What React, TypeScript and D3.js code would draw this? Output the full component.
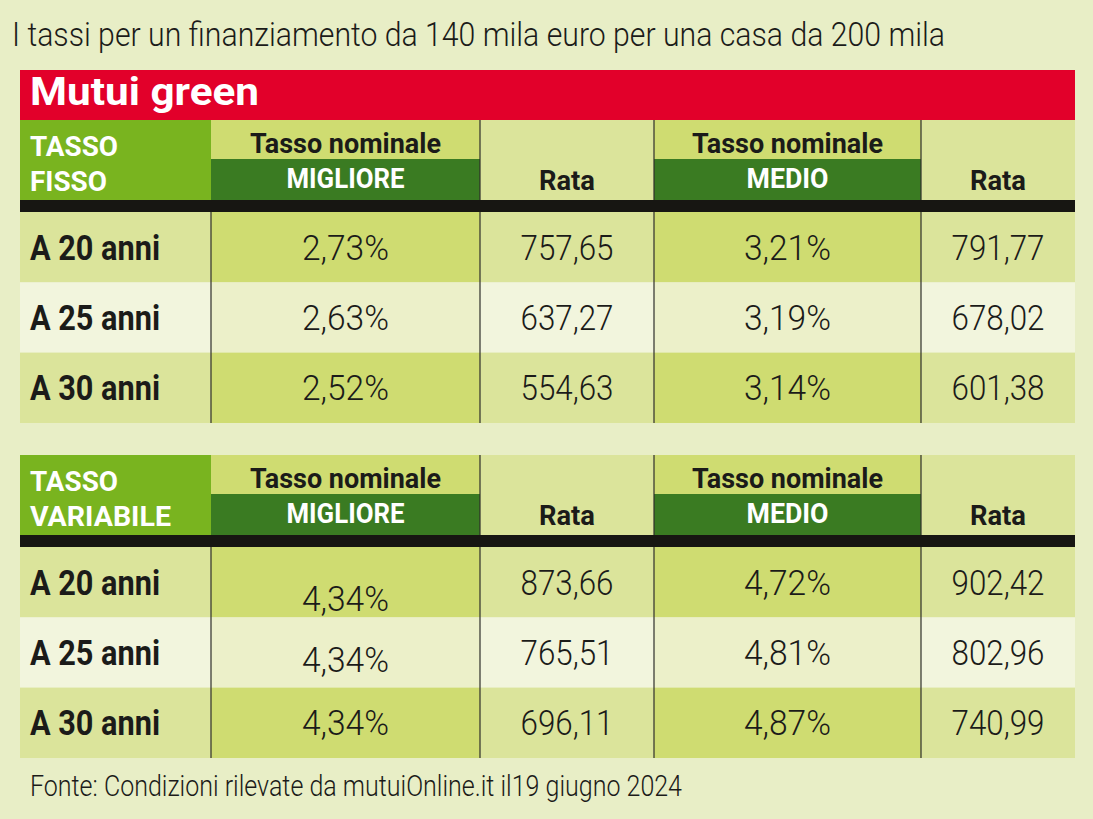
import React from "react";
import * as d3 from "d3";

const title = "I tassi per un finanziamento da 140 mila euro per una casa da 200 mila";
const banner = "Mutui green";
const footer = "Fonte: Condizioni rilevate da mutuiOnline.it il19 giugno 2024";
const rowLabels = ["A 20 anni", "A 25 anni", "A 30 anni"];
const tableNames = [["TASSO", "FISSO"], ["TASSO", "VARIABILE"]];
const headTop = "Tasso nominale";
const headSubs = ["MIGLIORE", "MEDIO"];
const rataLabel = "Rata";

const fissoMigliore = ["2,73%", "2,63%", "2,52%"];
const fissoRataMigliore = ["757,65", "637,27", "554,63"];
const fissoMedio = ["3,21%", "3,19%", "3,14%"];
const fissoRataMedio = ["791,77", "678,02", "601,38"];

const variabileMigliore = ["4,34%", "4,34%", "4,34%"];
const variabileRataMigliore = ["873,66", "765,51", "696,11"];
const variabileMedio = ["4,72%", "4,81%", "4,87%"];
const variabileRataMedio = ["902,42", "802,96", "740,99"];

const W = 1093, H = 819;
const colEdges = [20, 211, 480, 654, 921, 1075];
const C = {
  bg: "#e8eec6", red: "#e2002a", green: "#79b41f", dark: "#3a7b22",
  light: "#cfdc71", rataHead: "#dbe49b",
  oddA: "#dbe49b", oddB: "#cfdc71", evenA: "#f2f5dd", evenB: "#ecf0c9",
  black: "#171612", line: "#2e2e2a", text: "#1b1b19",
};
const F = "Roboto, 'Open Sans', sans-serif";

function Table({ top, names, cols, offsets }: { top: number; names: string[]; cols: string[][]; offsets: number[][] }) {
  const headH = 80;
  const blackH = 12;
  const bodyTop = top + headH + blackH;
  const y = d3.scaleBand<string>().domain(rowLabels).range([bodyTop, bodyTop + 211]);
  const cx = (i: number) => (colEdges[i] + colEdges[i + 1]) / 2;
  const cw = (i: number) => colEdges[i + 1] - colEdges[i];
  const splitY = top + 39;
  return (
    <g>
      <rect x={colEdges[0]} y={top} width={cw(0)} height={headH} fill={C.green} />
      {[1, 3].map((i) => (
        <g key={i}>
          <rect x={colEdges[i]} y={top} width={cw(i)} height={headH} fill={C.light} />
          <rect x={colEdges[i]} y={splitY} width={cw(i)} height={top + headH - splitY} fill={C.dark} />
          <text x={cx(i)} y={top + 33} textAnchor="middle" fontFamily={F} fontWeight={700} fontSize={27}
            textLength={191} lengthAdjust="spacingAndGlyphs" fill={C.text}>{headTop}</text>
          <text x={cx(i)} y={top + 68} textAnchor="middle" fontFamily={F} fontWeight={700} fontSize={27}
            textLength={i === 1 ? 118 : 82} lengthAdjust="spacingAndGlyphs" fill="#fff">{headSubs[(i - 1) / 2]}</text>
        </g>
      ))}
      {[2, 4].map((i) => (
        <g key={i}>
          <rect x={colEdges[i]} y={top} width={cw(i)} height={headH} fill={C.rataHead} />
          <text x={cx(i)} y={top + 70} textAnchor="middle" fontFamily={F} fontWeight={700} fontSize={28}
            textLength={56} lengthAdjust="spacingAndGlyphs" fill={C.text}>{rataLabel}</text>
        </g>
      ))}
      <text x={30} y={top + 36} fontFamily={F} fontWeight={700} fontSize={28} fill="#fff"
        textLength={88} lengthAdjust="spacingAndGlyphs">{names[0]}</text>
      <text x={30} y={top + 71} fontFamily={F} fontWeight={700} fontSize={28} fill="#fff"
        textLength={names[1].length > 6 ? 141 : 77} lengthAdjust="spacingAndGlyphs">{names[1]}</text>
      {[2, 3, 4].map((i) => (
        <line key={i} x1={colEdges[i]} x2={colEdges[i]} y1={top} y2={top + headH} stroke={C.line} strokeWidth={1.2} />
      ))}
      <rect x={colEdges[0]} y={top + headH} width={colEdges[5] - colEdges[0]} height={blackH} fill={C.black} />
      {rowLabels.map((r, ri) => {
        const y0 = y(r)!;
        const h = y.bandwidth();
        const even = ri === 1;
        const base = y0 + h / 2 + 12.5;
        return (
          <g key={r}>
            {[0, 1, 2, 3, 4].map((i) => (
              <rect key={i} x={colEdges[i]} y={y0} width={cw(i)} height={h}
                fill={even ? (i % 2 ? C.evenB : C.evenA) : (i % 2 ? C.oddB : C.oddA)} />
            ))}
            <text x={30} y={base} fontFamily={F} fontWeight={700} fontSize={35} fill={C.text}
              textLength={130} lengthAdjust="spacingAndGlyphs">{r}</text>
            {cols.map((col, ci) => (
              <text key={ci} x={cx(ci + 1)} y={base + offsets[ci][ri]} textAnchor="middle" fontFamily={F}
                fontWeight={300} fontSize={35} fill={C.text}
                textLength={col[ri].includes("%") ? 87 : 93} lengthAdjust="spacingAndGlyphs">{col[ri]}</text>
            ))}
          </g>
        );
      })}
      {[1, 2, 3, 4].map((i) => (
        <line key={i} x1={colEdges[i]} x2={colEdges[i]} y1={bodyTop} y2={bodyTop + 211} stroke={C.line} strokeWidth={1.2} />
      ))}
    </g>
  );
}

export default function App() {
  const zero = [[0, 0, 0], [0, 0, 0], [0, 0, 0], [0, 0, 0]];
  const varOff = [[16, 7, 0], [0, 0, 0], [0, 0, 0], [0, 0, 0]];
  return (
    <svg width={W} height={H} style={{ position: "absolute", left: 0, top: 0, display: "block" }}>
      <rect width={W} height={H} fill={C.bg} />
      <text x={12} y={46} fontFamily={F} fontWeight={300} fontSize={34} fill={C.text}
        textLength={933} lengthAdjust="spacingAndGlyphs">{title}</text>
      <rect x={colEdges[0]} y={70} width={colEdges[5] - colEdges[0]} height={50} fill={C.red} />
      <text x={30} y={105} fontFamily={F} fontWeight={700} fontSize={38} fill="#fff"
        textLength={229} lengthAdjust="spacingAndGlyphs">{banner}</text>
      <Table top={120} names={tableNames[0]}
        cols={[fissoMigliore, fissoRataMigliore, fissoMedio, fissoRataMedio]} offsets={zero} />
      <Table top={455} names={tableNames[1]}
        cols={[variabileMigliore, variabileRataMigliore, variabileMedio, variabileRataMedio]} offsets={varOff} />
      <text x={30} y={796} fontFamily={F} fontWeight={300} fontSize={30} fill={C.text}
        textLength={652} lengthAdjust="spacingAndGlyphs">{footer}</text>
    </svg>
  );
}
